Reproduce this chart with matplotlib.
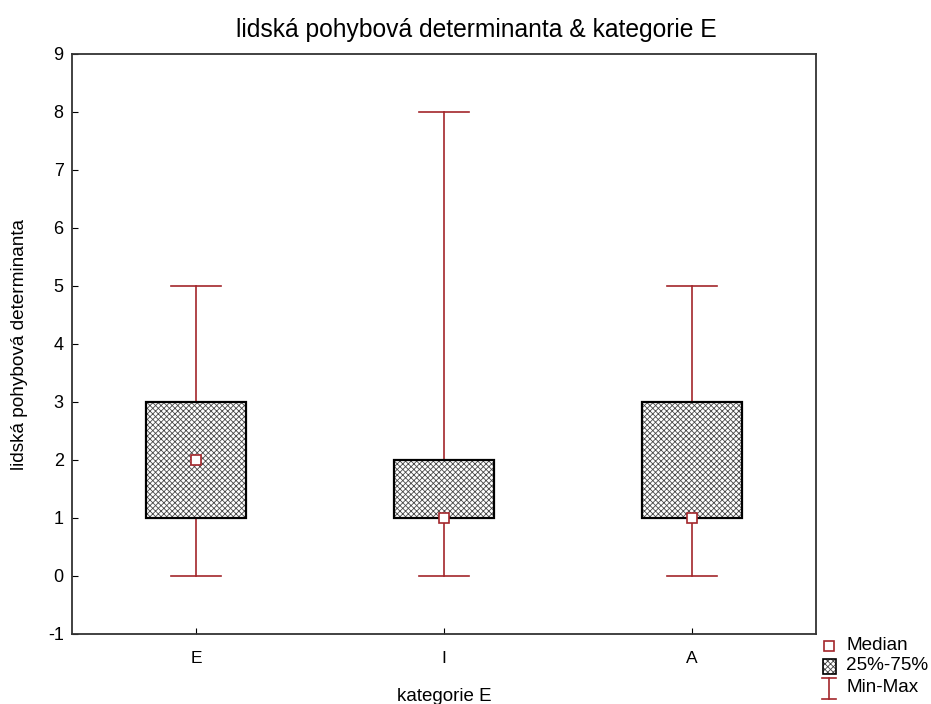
import matplotlib
matplotlib.use("Agg")
import matplotlib.pyplot as plt
from matplotlib.patches import Rectangle
from matplotlib.lines import Line2D

plt.rcParams['font.family'] = ['Liberation Sans', 'DejaVu Sans']
plt.rcParams['hatch.linewidth'] = 0.6
plt.rcParams['axes.unicode_minus'] = False

# data
categories = ['E', 'I', 'A']
mins = [0, 0, 0]
q1 = [1, 1, 1]
medians = [2, 1, 1]
q3 = [3, 2, 3]
maxs = [5, 8, 5]

red = '#a3262b'

fig = plt.figure(figsize=(9.31, 7.04), dpi=100)
ax = fig.add_axes([72/931, 1-634/704, (816-72)/931, (634-54)/704])

box_w = 0.4
cap_w = 0.2
for i in range(len(categories)):
    # whiskers min-max
    ax.plot([i, i], [mins[i], q1[i]], color=red, lw=1.2, zorder=1)
    ax.plot([i, i], [q3[i], maxs[i]], color=red, lw=1.2, zorder=1)
    ax.plot([i - cap_w/2, i + cap_w/2], [mins[i], mins[i]], color=red, lw=1.2)
    ax.plot([i - cap_w/2, i + cap_w/2], [maxs[i], maxs[i]], color=red, lw=1.2)
    # box 25%-75%
    ax.add_patch(Rectangle((i - box_w/2, q1[i]), box_w, q3[i] - q1[i],
                           facecolor='white', edgecolor='#4a4a4a', hatch='xxxxxx',
                           lw=0, zorder=2))
    ax.add_patch(Rectangle((i - box_w/2, q1[i]), box_w, q3[i] - q1[i],
                           facecolor='none', edgecolor='black', lw=1.6, zorder=3))
    # median
    ax.plot(i, medians[i], marker='s', ms=7, mfc='white', mec=red, mew=1.2, zorder=4)

ax.set_xlim(-0.5, 2.5)
ax.set_ylim(-1, 9)
ax.set_xticks(range(len(categories)))
ax.set_xticklabels(categories, fontsize=12.5)
ax.set_yticks(range(-1, 10))
ax.tick_params(axis='y', labelsize=13, length=4, direction='in', pad=6)
ax.tick_params(axis='x', length=4, direction='in', pad=12)
for s in ax.spines.values():
    s.set_color('#333333')
    s.set_linewidth(1.3)

ax.set_title('lidská pohybová determinanta & kategorie E', fontsize=17.7, pad=12, x=0.544)
ax.set_ylabel('lidská pohybová determinanta', fontsize=13.7, labelpad=14)
ax.set_xlabel('kategorie E', fontsize=13.5, labelpad=16)

# legend drawn beside the plot
W, H = 931, 704
def fx(px):
    return px / W
def fy(py):
    return 1 - py / H

fig.add_artist(Line2D([fx(829)], [fy(646)], marker='s', ms=7, mfc='white',
                      mec=red, mew=1.2, transform=fig.transFigure))
fig.text(fx(847), fy(646), 'Median', fontsize=13.6, va='center')
fig.add_artist(Rectangle((fx(823), fy(674)), 13/W, 15/H, facecolor='white',
                         edgecolor='#444444', hatch='xxxxxx', lw=0, transform=fig.transFigure))
fig.add_artist(Rectangle((fx(823), fy(674)), 13/W, 15/H, facecolor='none',
                         edgecolor='black', lw=1.2, transform=fig.transFigure))
fig.text(fx(846), fy(666), '25%-75%', fontsize=13.6, va='center')
fig.add_artist(Line2D([fx(829), fx(829)], [fy(678), fy(699)], color=red, lw=1.2, transform=fig.transFigure))
fig.add_artist(Line2D([fx(822), fx(836)], [fy(678), fy(678)], color=red, lw=1.2, transform=fig.transFigure))
fig.add_artist(Line2D([fx(822), fx(836)], [fy(699), fy(699)], color=red, lw=1.2, transform=fig.transFigure))
fig.text(fx(847), fy(687), 'Min-Max', fontsize=13.6, va='center')

fig.savefig('out.png', dpi=100)
